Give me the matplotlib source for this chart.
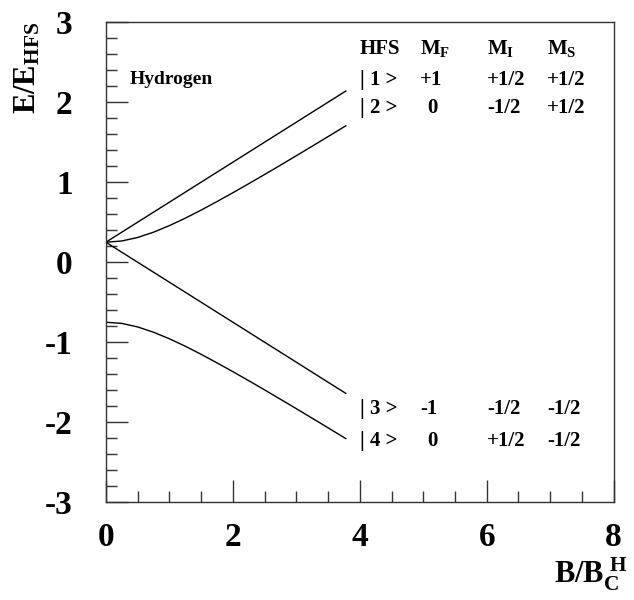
import matplotlib
matplotlib.use("Agg")
import matplotlib.pyplot as plt
from matplotlib.ticker import MultipleLocator

plt.rcParams['font.family'] = 'Liberation Serif'
plt.rcParams['font.weight'] = 'bold'
plt.rcParams['axes.unicode_minus'] = False
plt.rcParams['mathtext.fontset'] = 'custom'
plt.rcParams['mathtext.rm'] = 'Liberation Serif:bold'
plt.rcParams['mathtext.it'] = 'Liberation Serif:bold'
plt.rcParams['mathtext.bf'] = 'Liberation Serif:bold'

# Breit-Rabi levels
x_lin = [0.0, 3.78]
e1 = [0.25, 2.14]
e3 = [0.25, -1.64]

x_curve = [0.0, 0.25, 0.5, 0.75, 1.0, 1.25, 1.5, 1.75, 2.0, 2.25, 2.5, 2.75,
           3.0, 3.25, 3.5, 3.78]
e2 = [0.25, 0.265, 0.309, 0.375, 0.457, 0.550, 0.651, 0.758, 0.868, 0.981,
      1.096, 1.213, 1.331, 1.450, 1.570, 1.705]
e4 = [-0.75, -0.765, -0.809, -0.875, -0.957, -1.050, -1.151, -1.258, -1.368,
      -1.481, -1.596, -1.713, -1.831, -1.950, -2.070, -2.205]

# state table
header = ["HFS", r"$\mathrm{M_F}$", r"$\mathrm{M_I}$", r"$\mathrm{M_S}$"]
states = ["| 1 >", "| 2 >", "| 3 >", "| 4 >"]
mf = ["+1", "0", "-1", "0"]
mi = ["+1/2", "-1/2", "-1/2", "+1/2"]
ms = ["+1/2", "+1/2", "-1/2", "-1/2"]
row_y = [2.28, 1.93, -1.83, -2.23]

fig = plt.figure(figsize=(6.34, 6.0), dpi=100)
ax = fig.add_axes([0.167, 0.163, 0.801, 0.800])

ax.plot(x_lin, e1, color='black', lw=1.0)
ax.plot(x_curve, e2, color='black', lw=1.0)
ax.plot(x_lin, e3, color='black', lw=1.0)
ax.plot(x_curve, e4, color='black', lw=1.0)

ax.set_xlim(0, 8)
ax.set_ylim(-3, 3)
ax.xaxis.set_major_locator(MultipleLocator(2))
ax.xaxis.set_minor_locator(MultipleLocator(0.5))
ax.yaxis.set_major_locator(MultipleLocator(1))
ax.yaxis.set_minor_locator(MultipleLocator(0.2))
ax.tick_params(which='both', direction='in', top=False, right=False,
               labelsize=24, color='#333333')
ax.tick_params(which='major', length=16, width=1.0)
ax.tick_params(which='minor', length=8, width=1.0)
ax.tick_params(axis='y', which='major', pad=24)
ax.tick_params(axis='x', which='major', pad=14)
for s in ax.spines.values():
    s.set_linewidth(1.0)
    s.set_color('#333333')

ax.set_ylabel(r"$\mathrm{E/E_{HFS}}$", fontsize=22)
ax.yaxis.set_label_coords(-0.125, 0.905)
ax.text(0.955, -0.15, r"$\mathrm{B/B_C^{\ H}}$", transform=ax.transAxes,
        fontsize=22, ha='center', va='center')

ax.text(0.38, 2.28, "Hydrogen", fontsize=14, va='center', ha='left')

cols = [4.0, 4.95, 6.0, 6.95]
for c, h in zip(cols, header):
    ax.text(c, 2.67, h, fontsize=15, va='center', ha='left')
for i in range(4):
    ax.text(cols[0], row_y[i], states[i], fontsize=15, va='center', ha='left')
    ax.text(cols[1] + (0.12 if mf[i] == "0" else 0.0), row_y[i], mf[i],
            fontsize=15, va='center', ha='left')
    ax.text(cols[2], row_y[i], mi[i], fontsize=15, va='center', ha='left')
    ax.text(cols[3], row_y[i], ms[i], fontsize=15, va='center', ha='left')

fig.savefig("out.png", dpi=100)
